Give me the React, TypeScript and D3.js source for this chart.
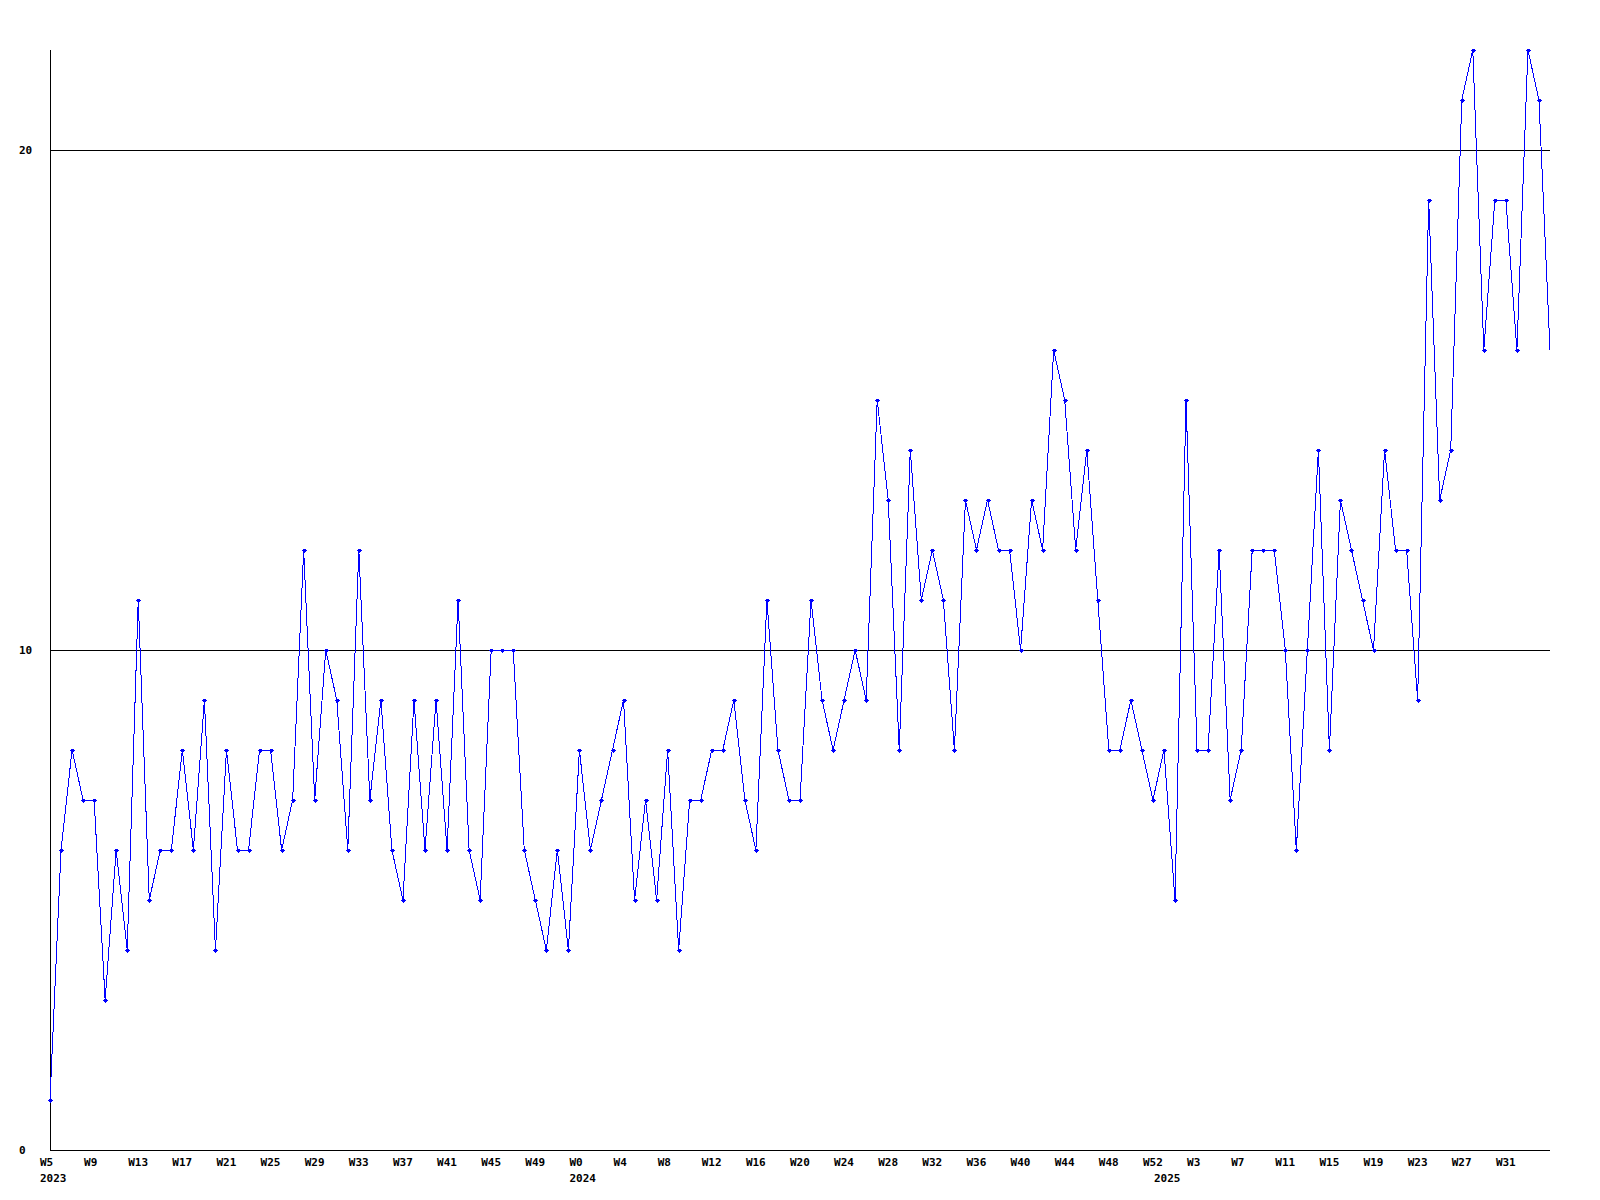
import React, { useEffect, useRef } from 'react';
import * as d3 from 'd3';

// weekly buckets shown on the x axis, per year
const yearSpans = [
  { year: '2023', firstWeek: 5, lastWeek: 52 },
  { year: '2024', firstWeek: 0, lastWeek: 52 },
  { year: '2025', firstWeek: 0, lastWeek: 35 },
];

// one value per week
const weeklyCounts = [
  1, 6, 8, 7, 7, 3, 6, 4, 11, 5,
  6, 6, 8, 6, 9, 4, 8, 6, 6, 8,
  8, 6, 7, 12, 7, 10, 9, 6, 12, 7,
  9, 6, 5, 9, 6, 9, 6, 11, 6, 5,
  10, 10, 10, 6, 5, 4, 6, 4, 8, 6,
  7, 8, 9, 5, 7, 5, 8, 4, 7, 7,
  8, 8, 9, 7, 6, 11, 8, 7, 7, 11,
  9, 8, 9, 10, 9, 15, 13, 8, 14, 11,
  12, 11, 8, 13, 12, 13, 12, 12, 10, 13,
  12, 16, 15, 12, 14, 11, 8, 8, 9, 8,
  7, 8, 5, 15, 8, 8, 12, 7, 8, 12,
  12, 12, 10, 6, 10, 14, 8, 13, 12, 11,
  10, 14, 12, 12, 9, 19, 13, 14, 21, 22,
  16, 19, 19, 16, 22, 21, 16,
];

const yTicks = [0, 10, 20];
const yMax = 22;
const labelEvery = 4;

const WIDTH = 1600;
const HEIGHT = 1200;
const FONT = '"DejaVu Sans Mono", "Liberation Mono", monospace';

const App: React.FC = () => {
  const svgRef = useRef<SVGSVGElement>(null);

  useEffect(() => {
    if (!svgRef.current) return;

    // build week categories
    const weeks: { key: string; label: string; year: string; first: boolean }[] = [];
    yearSpans.forEach(s => {
      for (let w = s.firstWeek; w <= s.lastWeek; w++) {
        weeks.push({ key: `${s.year}-W${w}`, label: `W${w}`, year: s.year, first: w === s.firstWeek });
      }
    });
    const data = weeks.slice(0, weeklyCounts.length).map((w, i) => ({ ...w, value: weeklyCounts[i] }));

    const svg = d3.select(svgRef.current);
    svg.selectAll('*').remove();

    const x = d3.scalePoint<string>()
      .domain(data.map(d => d.key))
      .range([50, 1550]);

    const y = d3.scaleLinear()
      .domain([0, yMax])
      .range([1150, 50]);

    const [x0, x1] = x.range();

    // horizontal grid lines + y labels
    yTicks.forEach(t => {
      svg.append('line')
        .attr('x1', x0).attr('x2', x1)
        .attr('y1', y(t) + 0.5).attr('y2', y(t) + 0.5)
        .attr('stroke', '#000')
        .attr('stroke-width', 1)
        .attr('shape-rendering', 'crispEdges');
      svg.append('text')
        .attr('x', 19)
        .attr('y', y(t) + 4)
        .attr('font-family', FONT)
        .attr('font-weight', 'bold')
        .attr('font-size', 11)
        .attr('fill', '#000')
        .text(String(t));
    });

    // y axis
    svg.append('line')
      .attr('x1', x0 + 0.5).attr('x2', x0 + 0.5)
      .attr('y1', y(yMax)).attr('y2', y(0))
      .attr('stroke', '#000')
      .attr('shape-rendering', 'crispEdges');

    // x labels: week every 4th point, year under first week of each year
    data.forEach((d, i) => {
      if (i % labelEvery === 0 && i < data.length - 1) {
        svg.append('text')
          .attr('x', (x(d.key) as number) - 10)
          .attr('y', 1166)
          .attr('font-family', FONT)
          .attr('font-weight', 'bold')
          .attr('font-size', 11)
          .attr('fill', '#000')
          .text(d.label);
      }
      if (d.first) {
        svg.append('text')
          .attr('x', (x(d.key) as number) - 10)
          .attr('y', 1182)
          .attr('font-family', FONT)
          .attr('font-weight', 'bold')
          .attr('font-size', 11)
          .attr('fill', '#000')
          .text(d.year);
      }
    });

    // the series line
    const line = d3.line<typeof data[number]>()
      .x(d => x(d.key) as number)
      .y(d => y(d.value));

    svg.append('path')
      .datum(data)
      .attr('d', line)
      .attr('fill', 'none')
      .attr('stroke', '#0000ff')
      .attr('stroke-width', 1)
      .attr('shape-rendering', 'crispEdges');

    // small cross markers (none on the last point)
    svg.selectAll('path.marker')
      .data(data.slice(0, data.length - 1))
      .enter()
      .append('path')
      .attr('class', 'marker')
      .attr('d', d => {
        const cx = Math.round(x(d.key) as number);
        const cy = Math.round(y(d.value));
        return `M${cx - 2.5},${cy + 0.5}h5M${cx + 0.5},${cy - 1.5}v4`;
      })
      .attr('fill', 'none')
      .attr('stroke', '#0000ff')
      .attr('stroke-width', 1)
      .attr('shape-rendering', 'crispEdges');
    svg.selectAll('rect.marker')
      .data(data.slice(0, data.length - 1))
      .enter()
      .append('rect')
      .attr('class', 'marker')
      .attr('x', d => Math.round(x(d.key) as number) - 1)
      .attr('y', d => Math.round(y(d.value)) - 1)
      .attr('width', 3)
      .attr('height', 3)
      .attr('fill', '#0000ff');
  }, []);

  return (
    <svg
      ref={svgRef}
      width={WIDTH}
      height={HEIGHT}
      style={{ position: 'absolute', left: 0, top: 0, background: '#fff' }}
    />
  );
};

export default App;
